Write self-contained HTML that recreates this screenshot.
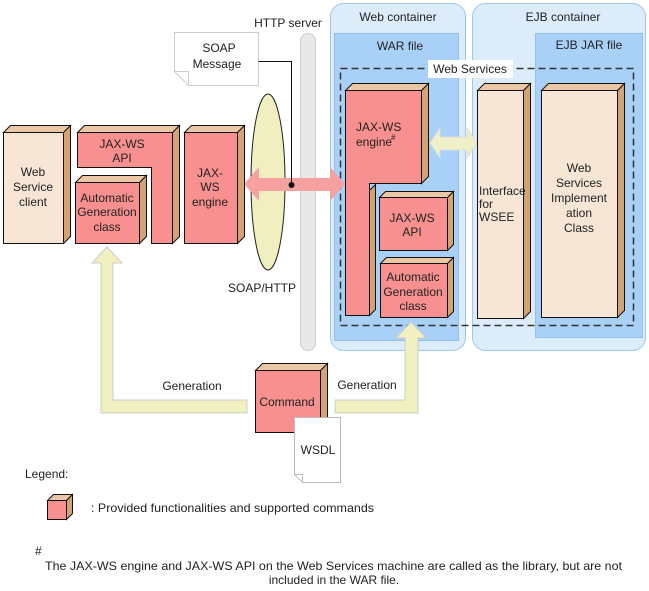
<!DOCTYPE html>
<html><head><meta charset="utf-8"><style>
html,body{margin:0;padding:0;background:#fff}
svg{display:block;font-family:"Liberation Sans",Arial,sans-serif}
text{fill:#222;font-size:12px}
</style></head><body>
<svg width="649" height="591" viewBox="0 0 649 591" xmlns="http://www.w3.org/2000/svg">
<!-- containers -->
<rect x="330.5" y="3.5" width="135" height="347" rx="13" fill="#dcecfb" stroke="#9cc8f0"/>
<rect x="334.5" y="33.5" width="124" height="307" fill="#a9d1f8" stroke="#8fc0ee"/>
<rect x="472.5" y="3.5" width="173" height="347" rx="13" fill="#dcecfb" stroke="#9cc8f0"/>
<rect x="535.5" y="33.5" width="107" height="304" fill="#a9d1f8" stroke="#8fc0ee"/>
<text x="398" y="21" text-anchor="middle">Web container</text>
<text x="400" y="50" text-anchor="middle">WAR file</text>
<text x="563" y="21" text-anchor="middle">EJB container</text>
<text x="589" y="49" text-anchor="middle">EJB JAR file</text>
<rect x="340.5" y="68.5" width="293" height="257" fill="none" stroke="#333" stroke-width="1.5" stroke-dasharray="7,4"/>
<rect x="428" y="60" width="85" height="18" fill="#fff"/>
<text x="470" y="73" text-anchor="middle">Web Services</text>

<!-- HTTP server -->
<rect x="300.5" y="33.5" width="15" height="317" rx="7.5" fill="#e8e8e8" stroke="#ccc"/>
<text x="288" y="27" text-anchor="middle">HTTP server</text>
<!-- ellipse -->
<ellipse cx="268" cy="182" rx="17" ry="88" fill="#efefc0" stroke="#222"/>
<text x="262" y="292" text-anchor="middle">SOAP/HTTP</text>

<!-- SOAP message note -->
<path d="M174.5,32.5 H258.5 V85.5 H188.5 L174.5,71.5 Z" fill="#fff" stroke="#ccc"/>
<path d="M174.5,71.5 L188.5,71.5 L188.5,85.5" fill="none" stroke="#ccc"/>
<text x="219" y="52" text-anchor="middle">SOAP</text>
<text x="217" y="68" text-anchor="middle">Message</text>

<!-- pink double arrow -->
<polygon points="244,184 259,167 259,178 330,178 330,167 345,184 330,201 330,191 259,191 259,201" fill="#f7a0a0"/>
<path d="M258.5,61.5 H291.5 V185" fill="none" stroke="#111"/>
<circle cx="291.5" cy="185" r="3" fill="#111"/>

<!-- beige double arrow -->
<polygon points="430,143 440,128 440,137 467,137 467,128 477,143 467,158 467,150 440,150 440,158" fill="#f0f0c8" stroke="#ddd"/>

<!-- boxes -->
<g stroke="#111" stroke-width="1">
<polygon points="3.5,132.5 10.5,125.5 70.5,125.5 63.5,132.5" fill="#ecc7a5"/>
<polygon points="63.5,132.5 70.5,125.5 70.5,236.5 63.5,243.5" fill="#d4a373"/>
<rect x="3.5" y="132.5" width="60" height="111" fill="#f7e6d6"/>
<polygon points="77.5,132.5 84.5,125.5 179.5,125.5 172.5,132.5" fill="#ecc7a5"/>
<polygon points="172.5,132.5 179.5,125.5 179.5,236.5 172.5,243.5" fill="#d4a373"/>
<path d="M77.5,132.5 H172.5 V243.5 H151.5 V167.5 H77.5 Z" fill="#f99090"/>
<polygon points="75.5,182.5 82.5,175.5 146.5,175.5 139.5,182.5" fill="#ecc7a5"/>
<polygon points="139.5,182.5 146.5,175.5 146.5,236.5 139.5,243.5" fill="#d4a373"/>
<rect x="75.5" y="182.5" width="64" height="61" fill="#f99090"/>
<polygon points="184.5,132.5 191.5,125.5 244.5,125.5 237.5,132.5" fill="#ecc7a5"/>
<polygon points="237.5,132.5 244.5,125.5 244.5,236.5 237.5,243.5" fill="#d4a373"/>
<rect x="184.5" y="132.5" width="53" height="111" fill="#f99090"/>

<polygon points="345.5,90.5 352.5,83.5 428.5,83.5 421.5,90.5" fill="#ecc7a5"/>
<polygon points="421.5,90.5 428.5,83.5 428.5,176.5 421.5,183.5" fill="#d4a373"/>
<polygon points="369.5,190.5 375.5,184.5 375.5,309.5 369.5,315.5" fill="#d4a373"/>
<path d="M345.5,90.5 H421.5 V183.5 H369.5 V315.5 H345.5 Z" fill="#f99090"/>
<polygon points="379.5,197.5 385.5,191.5 453.5,191.5 447.5,197.5" fill="#ecc7a5"/>
<polygon points="447.5,197.5 453.5,191.5 453.5,244.5 447.5,250.5" fill="#d4a373"/>
<rect x="379.5" y="197.5" width="68" height="53" fill="#f99090"/>
<polygon points="380.5,263.5 386.5,257.5 453.5,257.5 447.5,263.5" fill="#ecc7a5"/>
<polygon points="447.5,263.5 453.5,257.5 453.5,311.5 447.5,317.5" fill="#d4a373"/>
<rect x="380.5" y="263.5" width="67" height="54" fill="#f99090"/>
<polygon points="477.5,90.5 484.5,83.5 530.5,83.5 523.5,90.5" fill="#ecc7a5"/>
<polygon points="523.5,90.5 530.5,83.5 530.5,311.5 523.5,318.5" fill="#d4a373"/>
<rect x="477.5" y="90.5" width="46" height="228" fill="#f7e6d6"/>
<polygon points="541.5,90.5 548.5,83.5 624.5,83.5 617.5,90.5" fill="#ecc7a5"/>
<polygon points="617.5,90.5 624.5,83.5 624.5,310.5 617.5,317.5" fill="#d4a373"/>
<rect x="541.5" y="90.5" width="76" height="227" fill="#f7e6d6"/>
</g>

<!-- generation arrows -->
<polygon points="247,400 113,400 113,263 122,263 107,247 92,263 101,263 101,413 247,413" fill="#f0f0c0" stroke="#ccc"/>
<polygon points="335,400 405,400 405,338 396,338 411,322 426,338 418,338 418,413 335,413" fill="#f0f0c0" stroke="#ccc"/>
<text x="192" y="390" text-anchor="middle">Generation</text>
<text x="367" y="389" text-anchor="middle">Generation</text>

<g stroke="#111">
<polygon points="255.5,370.5 262.5,363.5 327.5,363.5 320.5,370.5" fill="#ecc7a5"/>
<polygon points="320.5,370.5 327.5,363.5 327.5,425.5 320.5,432.5" fill="#d4a373"/>
<rect x="255.5" y="370.5" width="65" height="62" fill="#f99090"/>
</g>
<text x="287" y="406" text-anchor="middle">Command</text>
<path d="M294.5,417.5 H340.5 V482.5 H302.5 L294.5,474.5 Z" fill="#fff" stroke="#bbb"/>
<path d="M294.5,474.5 L302.5,474.5 L302.5,482.5" fill="none" stroke="#bbb"/>
<text x="318" y="454" text-anchor="middle">WSDL</text>

<g text-anchor="middle">
<text x="33" y="176">Web</text><text x="33" y="191">Service</text><text x="33" y="206">client</text>
<text x="122" y="148">JAX-WS</text><text x="122" y="162">API</text>
<text x="107" y="202">Automatic</text><text x="107" y="216">Generation</text><text x="107" y="231">class</text>
<text x="210" y="177">JAX-</text><text x="210" y="191">WS</text><text x="210" y="206">engine</text>
<text x="412" y="222">JAX-WS</text><text x="412" y="236">API</text>
<text x="413" y="281">Automatic</text><text x="413" y="296">Generation</text><text x="413" y="310">class</text>
<text x="579" y="172">Web</text><text x="579" y="187">Services</text><text x="579" y="202">Implement</text><text x="579" y="217">ation</text><text x="579" y="232">Class</text>
</g>
<text x="356" y="131">JAX-WS</text>
<text x="356" y="146">engine</text><text x="391" y="140" style="font-size:8px">#</text>
<g style="font-size:10px"><text x="479" y="195">Interface</text><text x="479" y="208">for</text><text x="479" y="221">WSEE</text></g>

<!-- legend -->
<text x="25" y="478">Legend:</text>
<g stroke="#111">
<polygon points="47.5,500.5 53.5,494.5 72.5,494.5 66.5,500.5" fill="#ecc7a5"/>
<polygon points="66.5,500.5 72.5,494.5 72.5,513.5 66.5,519.5" fill="#d4a373"/>
<rect x="47.5" y="500.5" width="19" height="19" fill="#f99090"/>
</g>
<text x="91" y="512" textLength="283" lengthAdjust="spacingAndGlyphs">: Provided functionalities and supported commands</text>
<text x="35" y="555">#</text>
<text x="45" y="570" textLength="577" lengthAdjust="spacingAndGlyphs">The JAX-WS engine and JAX-WS API on the Web Services machine are called as the library, but are not</text>
<text x="334" y="584" text-anchor="middle">included in the WAR file.</text>
</svg>
</body></html>
